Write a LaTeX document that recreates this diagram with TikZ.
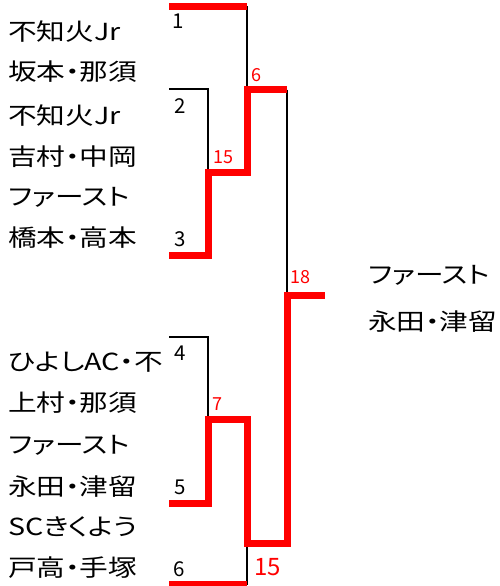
\documentclass[tikz,border=0pt]{standalone}
\usepackage{fontspec}
\setmainfont{Noto Sans CJK JP}[RawFeature={+palt},FakeStretch=1.22]
\newfontfamily\numfont{Noto Sans CJK JP}
\begin{document}
\begin{tikzpicture}[x=1pt,y=-1pt,
  blkln/.style={draw=black,line width=2.4pt,line join=miter},
  redln/.style={draw=red,line width=7pt,line join=miter},
  teamtxt/.style={anchor=west,inner sep=0pt,font=\fontsize{23.5}{23.5}\selectfont},
  seednum/.style={inner sep=0pt,font=\numfont\fontsize{20.5}{20.5}\selectfont},
  scorenum/.style={inner sep=0pt,text=red,font=\numfont\fontsize{18}{18}\selectfont},
  bigscore/.style={inner sep=0pt,text=red,font=\numfont\fontsize{24}{24}\selectfont}]
\useasboundingbox (0,0) rectangle (500,586);
% coordinates
\coordinate (a1) at (169,6.5);  \coordinate (b1) at (247,6.5);
\coordinate (a2) at (169,89);   \coordinate (b2) at (208,89);
\coordinate (a3) at (169,255);  \coordinate (b3) at (208,255);
\coordinate (a4) at (169,337);  \coordinate (b4) at (208,337);
\coordinate (a5) at (169,503);  \coordinate (b5) at (208,503);
\coordinate (a6) at (169,584.5);\coordinate (b6) at (247,584.5);
\coordinate (m23) at (208,172); \coordinate (m23r) at (247,172);
\coordinate (m1) at (247,89.5); \coordinate (m1r) at (287,89.5);
\coordinate (m45) at (208,419.5); \coordinate (m45r) at (247,419.5);
\coordinate (m6) at (247,543.5); \coordinate (m6r) at (287,543.5);
\coordinate (f) at (287,295.5); \coordinate (fr) at (325,295.5);
% black lines
\draw[blkln] (a2) -- (b2) -- (m23);
\draw[blkln] (a4) -- (b4) -- (m45);
\draw[blkln] (b1) -- (m1);
\draw[blkln] (m1r) -- (f);
\draw[blkln] (m6) -- (b6);
% red lines
\draw[redln] (a1) -- (b1);
\draw[redln] (a3) -- (b3) -- (m23) -- (m23r) -- (m1) -- (m1r);
\draw[redln] (a5) -- (b5) -- (m45) -- (m45r) -- (m6) -- (m6r) -- (f) -- (fr);
\draw[redln] (a6) -- (b6);
% names
\node[teamtxt] (n1a) at (8,32) {不知火Jr};
\node[teamtxt] (n1b) at (8,72) {坂本・那須};
\node[teamtxt] (n2a) at (8,116) {不知火Jr};
\node[teamtxt] (n2b) at (8,157) {吉村・中岡};
\node[teamtxt] (n3a) at (8,197) {ファースト};
\node[teamtxt] (n3b) at (8,238) {橋本・高本};
\node[teamtxt] (n4a) at (8,362) {ひよしAC・不};
\node[teamtxt] (n4b) at (8,403) {上村・那須};
\node[teamtxt] (n5a) at (8,445) {ファースト};
\node[teamtxt] (n5b) at (8,487) {永田・津留};
\node[teamtxt] (n6a) at (8,527) {SCきくよう};
\node[teamtxt] (n6b) at (8,568) {戸高・手塚};
\node[teamtxt] (wa) at (368,275) {ファースト};
\node[teamtxt] (wb) at (368,322) {永田・津留};
% seeds
\node[seednum] (s1) at (178,21) {1};
\node[seednum] (s2) at (180,106) {2};
\node[seednum] (s3) at (180,239) {3};
\node[seednum] (s4) at (180,353) {4};
\node[seednum] (s5) at (180,487) {5};
\node[seednum] (s6) at (179,569) {6};
% scores
\node[scorenum] (c1) at (256,75) {6};
\node[scorenum] (c2) at (223,157) {15};
\node[scorenum] (c3) at (300,277) {18};
\node[scorenum] (c4) at (217,404) {7};
\node[bigscore] (c5) at (267.5,567) {15};
\end{tikzpicture}
\end{document}
